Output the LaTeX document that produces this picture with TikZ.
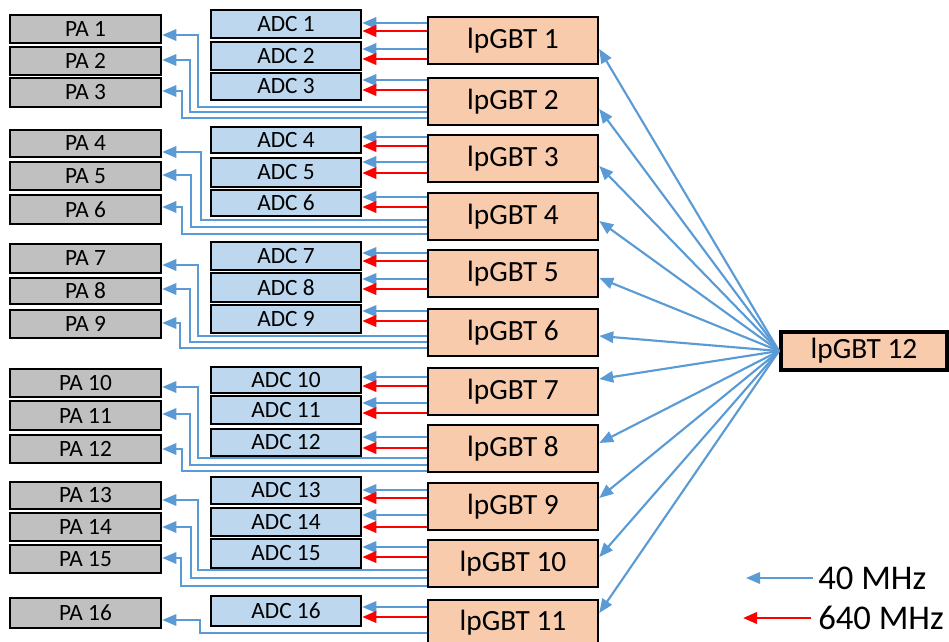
\documentclass[tikz,border=0pt]{standalone}
\usepackage{fontspec}
\setmainfont{Carlito}
\usetikzlibrary{arrows.meta}
\definecolor{pagray}{RGB}{192,192,192}
\definecolor{adcblue}{RGB}{189,215,238}
\definecolor{lpfill}{RGB}{248,203,173}
\definecolor{linkblue}{RGB}{91,155,213}
\definecolor{linkred}{RGB}{255,0,0}
\newcommand{\mybox}[7]{\node[#1, minimum width={(#5-#3)*0.75pt}, minimum height={(#6-#4)*0.75pt}] (#2) at ({(#3+#5)/2},{(#4+#6)/2}) {#7};}
\begin{document}
\begin{tikzpicture}[x=0.75pt, y=-0.75pt,
  basebox/.style={draw=black, line width=1.9pt, inner sep=0pt, rectangle},
  pabox/.style={basebox, fill=pagray, font=\fontsize{17.5}{20}\selectfont},
  adcbox/.style={basebox, fill=adcblue, font=\fontsize{17.5}{20}\selectfont},
  lpbox/.style={basebox, fill=lpfill, font=\fontsize{22}{26}\selectfont},
  hubbox/.style={lpbox, line width=3pt},
  slow/.style={draw=linkblue, line width=1.6pt, -{Triangle[length=10.5pt,width=8.5pt]}},
  fast/.style={draw=linkred, line width=2pt, -{Triangle[length=10.5pt,width=8.5pt]}},
  legendtext/.style={anchor=west, inner sep=0pt, font=\fontsize{26}{30}\selectfont}]
\clip (0,0) rectangle (949,642);
% PA boxes
\foreach \n/\a/\b in {1/15/43, 2/47/75, 3/78/107, 4/130/157, 5/162/190, 6/195/224,
  7/244/273, 8/278/304, 9/310/338, 10/369/397, 11/401/430, 12/435/463,
  13/482/509, 14/513/541, 15/545/573, 16/598/628}
  {\mybox{pabox}{pa\n}{10}{\a}{161}{\b}{PA \n}}
% ADC boxes
\foreach \n/\a/\b in {1/10/38, 2/42/70, 3/73/100, 4/127/153, 5/158/187, 6/190/216,
  7/242/270, 8/273/302, 9/305/333, 10/367/393, 11/396/424, 12/429/456,
  13/477/504, 14/508/536, 15/539/568, 16/596/626}
  {\mybox{adcbox}{adc\n}{211}{\a}{361}{\b}{ADC \n}}
% lpGBT boxes
\foreach \n/\a/\b in {1/17/64, 2/78/125, 3/135/182, 4/193/240, 5/250/297, 6/309/356,
  7/368/415, 8/425/472, 9/483/530, 10/540/587, 11/600/645}
  {\mybox{lpbox}{lp\n}{428}{\a}{598}{\b}{lpGBT \n}}
\mybox{hubbox}{lp12}{781}{332}{947}{370}{lpGBT 12}
% lpGBT -> ADC links
\foreach \a/\l/\b/\r in {1/1/23/31, 2/1/49/59, 3/2/80/90, 4/3/137/146, 5/3/162/173,
  6/4/197/207, 7/5/253/261, 8/5/279/289, 9/6/311/321, 10/7/377/386, 11/7/403/413,
  12/8/437/448, 13/9/490/498, 14/9/515/527, 15/10/547/557, 16/11/607/617}
{
  \draw[slow] (lp\l.west |- 0,\b) -- (adc\a.east |- 0,\b);
  \draw[fast] (lp\l.west |- 0,\r) -- (adc\a.east |- 0,\r);
}
% lpGBT -> PA links
\foreach \p/\l/\h/\v/\t in {1/2/107/198/35, 2/2/112/190/60, 3/2/118/182/91,
  4/4/220/201/152, 5/4/227/191/175, 6/4/234/182/207,
  7/6/336/198/265, 8/6/342/190/289, 9/6/348/180/323,
  10/8/458/198/387, 11/8/465/190/414, 12/8/471/182/449,
  13/10/570/198/500, 14/10/578/191/527, 15/10/586/181/558,
  16/11/633/200/620}
{
  \draw[slow] (lp\l.west |- 0,\h) -| (\v,\t) -- (pa\p.east |- 0,\t);
}
% lpGBT 12 -> lpGBT 1..11
\foreach \l/\y in {1/49, 2/109, 3/166, 4/221, 5/278, 6/336, 7/379, 8/443, 9/498, 10/557, 11/613}
{
  \draw[slow] (lp12.west) -- (lp\l.east |- 0,\y);
}
% legend
\node[legendtext] (t40) at (818,578) {40 MHz};
\node[legendtext] (t640) at (818,618) {640 MHz};
\coordinate (k40) at (746,578);
\coordinate (k640) at (743,618);
\draw[slow] ([xshift=-3.75pt]t40.west) -- (k40);
\draw[fast] ([xshift=-5pt]t640.west) -- (k640);
\end{tikzpicture}
\end{document}
